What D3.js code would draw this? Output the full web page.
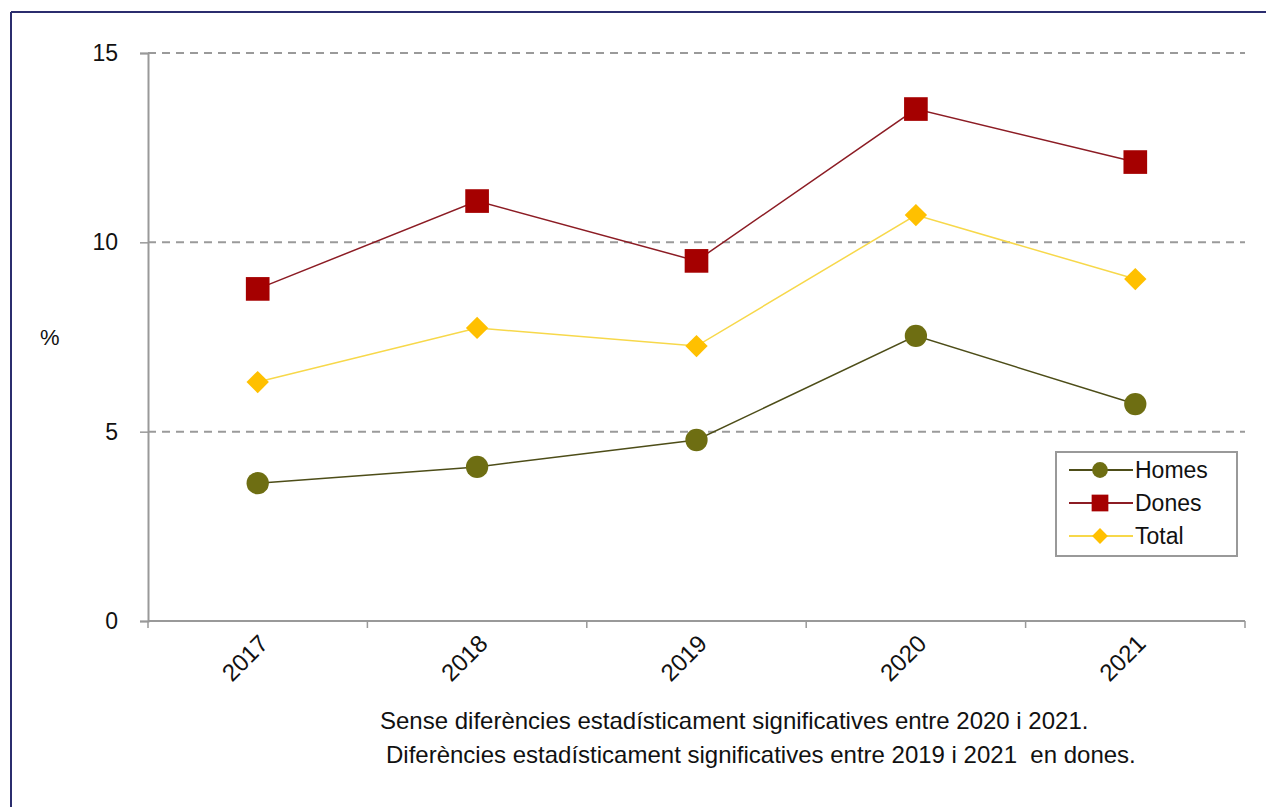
<!DOCTYPE html>
<html lang="ca">
<head>
<meta charset="utf-8">
<title>Homes, Dones, Total</title>
<script src="https://d3js.org/d3.v7.min.js"></script>
<style>
  body { margin: 0; background: #fff; overflow: hidden; }
  svg { display: block; }
  text { font-family: "Liberation Sans", Arial, sans-serif; fill: #111; }
</style>
</head>
<body>
<script>
// data
var years = ["2017", "2018", "2019", "2020", "2021"];
var homes = [3.64, 4.07, 4.78, 7.53, 5.73];
var dones = [8.77, 11.09, 9.51, 13.52, 12.12];
var total = [6.31, 7.74, 7.26, 10.72, 9.03];
var yTicks = [0, 5, 10, 15];
var notes = ["Sense diferències estadísticament significatives entre 2020 i 2021.",
             "Diferències estadísticament significatives entre 2019 i 2021  en dones."];

var w = 1266, h = 807;
var margin = {top: 53, left: 148, right: 21, bottom: 186};
var innerWidth = w - margin.left - margin.right;
var innerHeight = h - margin.top - margin.bottom;

var svg = d3.select("body").append("svg")
  .attr("width", w).attr("height", h);

// frame (left + top edges only)
svg.append("line").attr("x1", 11).attr("x2", 11).attr("y1", 12).attr("y2", h)
  .attr("stroke", "#2b2d6e").attr("stroke-width", 2);
svg.append("line").attr("x1", 11).attr("x2", w).attr("y1", 12).attr("y2", 12)
  .attr("stroke", "#2b2d6e").attr("stroke-width", 2);

var g = svg.append("g").attr("transform", `translate(${margin.left},${margin.top})`);

var xScale = d3.scaleBand().domain(years).range([0, innerWidth]);
var yScale = d3.scaleLinear().domain([0, 15]).range([innerHeight, 0]);
var cx = function(d, i) { return xScale(years[i]) + xScale.bandwidth() / 2; };

// gridlines
g.selectAll(".grid").data(yTicks.filter(function(d){ return d > 0; }))
  .enter().append("line")
  .attr("x1", 0).attr("x2", innerWidth)
  .attr("y1", function(d){ return yScale(d); })
  .attr("y2", function(d){ return yScale(d); })
  .attr("stroke", "#9a9a9a").attr("stroke-width", 2)
  .attr("stroke-dasharray", "8,6");

// y axis
var yAxis = g.append("g")
  .call(d3.axisLeft(yScale).tickValues(yTicks).tickSize(8).tickPadding(22));
yAxis.select(".domain").attr("stroke", "#999").attr("stroke-width", 2);
yAxis.selectAll(".tick line").attr("stroke", "#999").attr("stroke-width", 1.5);
yAxis.selectAll("text").attr("font-size", 23).attr("fill", "#222")
  .attr("font-family", "Liberation Sans, Arial, sans-serif");

// x axis, ticks at band edges
var xg = g.append("g").attr("transform", `translate(0,${innerHeight})`);
xg.append("line").attr("x1", 0).attr("x2", innerWidth)
  .attr("stroke", "#999").attr("stroke-width", 2);
xg.selectAll(".xt").data(d3.range(years.length + 1)).enter().append("line")
  .attr("x1", function(i){ return i * xScale.step(); })
  .attr("x2", function(i){ return i * xScale.step(); })
  .attr("y1", 0).attr("y2", 7)
  .attr("stroke", "#999").attr("stroke-width", 1.5);
xg.selectAll(".xl").data(years).enter().append("text")
  .attr("text-anchor", "end")
  .attr("font-size", 24)
  .attr("transform", function(d){
    return `translate(${xScale(d) + xScale.bandwidth() / 2 + 12},${24}) rotate(-45)`;
  })
  .text(function(d){ return d; });

// "%" label
svg.append("text").attr("x", 40).attr("y", 345).attr("font-size", 22).text("%");

var line = d3.line().x(cx).y(function(d){ return yScale(d); });

// series
var series = [
  {name: "Homes", values: homes, line: "#4d4d18", fill: "#6e6e12", shape: d3.symbolCircle, size: 390, rot: 0},
  {name: "Dones", values: dones, line: "#8c1c24", fill: "#a50000", shape: d3.symbolSquare, size: 560, rot: 0},
  {name: "Total", values: total, line: "#f7d84a", fill: "#ffc000", shape: d3.symbolSquare, size: 250, rot: 45}
];

series.forEach(function(s){
  g.append("path").datum(s.values)
    .attr("d", line).attr("fill", "none")
    .attr("stroke", s.line).attr("stroke-width", 1.5);
  g.selectAll(".m-" + s.name).data(s.values).enter().append("path")
    .attr("d", d3.symbol().type(s.shape).size(s.size))
    .attr("transform", function(d, i){ return `translate(${cx(d, i)},${yScale(d)}) rotate(${s.rot})`; })
    .attr("fill", s.fill);
});

// legend
var lg = svg.append("g").attr("transform", "translate(1056,452)");
lg.append("rect").attr("width", 181).attr("height", 104)
  .attr("fill", "#fff").attr("stroke", "#999").attr("stroke-width", 2);
series.forEach(function(s, i){
  var yy = 18 + i * 33;
  lg.append("line").attr("x1", 13).attr("x2", 77).attr("y1", yy).attr("y2", yy)
    .attr("stroke", s.line).attr("stroke-width", 2);
  lg.append("path")
    .attr("d", d3.symbol().type(s.shape).size(s.size * 0.5))
    .attr("transform", `translate(44,${yy}) rotate(${s.rot})`)
    .attr("fill", s.fill);
  lg.append("text").attr("x", 79).attr("y", yy + 8).attr("font-size", 23)
    .text(s.name);
});

// footnotes
var noteX = [380, 386];
svg.selectAll(".note").data(notes).enter().append("text")
  .attr("x", function(d, i){ return noteX[i]; })
  .attr("y", function(d, i){ return 729 + i * 34; })
  .attr("font-size", 24)
  .attr("fill", "#222")
  .attr("xml:space", "preserve")
  .text(function(d){ return d; });
</script>
</body>
</html>
